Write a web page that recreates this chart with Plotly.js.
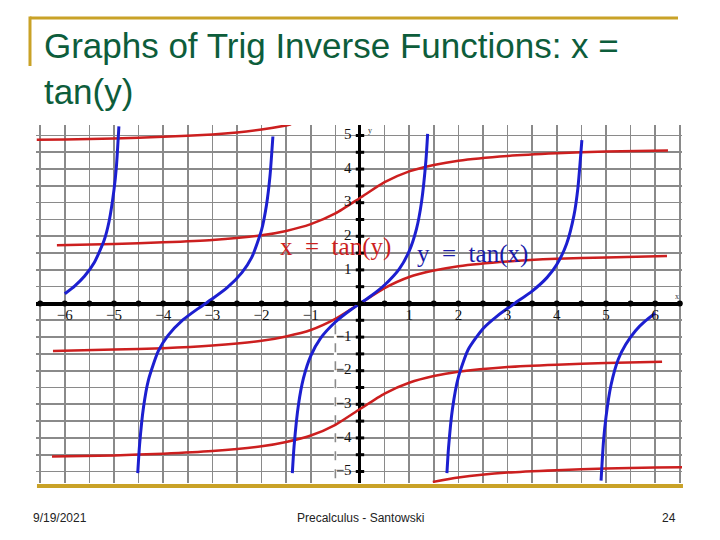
<!DOCTYPE html>
<html>
<head>
<meta charset="utf-8">
<script src="https://cdn.plot.ly/plotly-3.0.1.min.js"></script>
<style>html,body{margin:0;padding:0;background:#fff;}#chart{width:720px;height:540px;}</style>
</head>
<body>
<div id="chart"></div>
<script>
// ---- Data ----
// Blue: y = tan(x), one array pair per branch
const blue1X = [-6.0, -5.8, -5.6, -5.4, -5.2, -5.1, -5.0, -4.95, -4.9];
const blue1Y = [0.29, 0.52, 0.81, 1.22, 1.88, 2.44, 3.38, 4.09, 5.27];
const blue2X = [-4.517, -4.48, -4.4, -4.3, -4.1, -3.9, -3.6, -3.3, -3.14, -3.0, -2.7, -2.4, -2.2, -2.0, -1.9, -1.83, -1.77];
const blue2Y = [-5.05, -4.21, -3.09, -2.28, -1.42, -0.95, -0.49, -0.16, 0.0, 0.14, 0.47, 0.92, 1.37, 2.19, 2.93, 3.78, 4.97];
const blue3X = [-1.375, -1.34, -1.25, -1.15, -1.0, -0.8, -0.5, -0.2, 0.0, 0.2, 0.5, 0.8, 1.0, 1.15, 1.25, 1.34, 1.375];
const blue3Y = [-5.05, -4.25, -3.01, -2.23, -1.56, -1.03, -0.55, -0.20, 0.0, 0.20, 0.55, 1.03, 1.56, 2.23, 3.01, 4.25, 5.05];
const blue4X = [1.767, 1.80, 1.88, 2.0, 2.2, 2.5, 2.8, 3.14, 3.5, 3.8, 4.0, 4.2, 4.35, 4.43, 4.51];
const blue4Y = [-5.05, -4.29, -3.13, -2.19, -1.37, -0.75, -0.36, 0.0, 0.37, 0.77, 1.16, 1.78, 2.63, 3.45, 4.86];
const blue5X = [4.90, 4.95, 5.0, 5.1, 5.25, 5.4, 5.6, 5.8, 6.0];
const blue5Y = [-5.27, -4.09, -3.38, -2.44, -1.66, -1.22, -0.81, -0.52, -0.29];

// Red: x = tan(y), one array pair per branch
const red1X = [-6.57, -6.0, -5.0, -4.0, -3.0, -2.5, -2.0, -1.5, -1.4];
const red1Y = [4.87, 4.88, 4.91, 4.96, 5.03, 5.09, 5.18, 5.30, 5.33];
const red2X = [-6.16, -5.0, -4.0, -3.0, -2.0, -1.5, -1.0, -0.5, 0.0, 0.5, 1.0, 1.5, 2.0, 3.0, 4.0, 5.0, 6.26];
const red2Y = [1.73, 1.77, 1.82, 1.89, 2.03, 2.16, 2.36, 2.68, 3.14, 3.61, 3.93, 4.12, 4.25, 4.39, 4.47, 4.52, 4.55];
const red3X = [-6.24, -5.0, -4.0, -3.0, -2.0, -1.5, -1.0, -0.5, 0.0, 0.5, 1.0, 1.5, 2.0, 3.0, 4.0, 5.0, 6.24];
const red3Y = [-1.41, -1.37, -1.33, -1.25, -1.11, -0.98, -0.79, -0.46, 0.0, 0.46, 0.79, 0.98, 1.11, 1.25, 1.33, 1.37, 1.41];
const red4X = [-6.26, -5.0, -4.0, -3.0, -2.0, -1.5, -1.0, -0.5, 0.0, 0.5, 1.0, 1.5, 2.0, 3.0, 4.0, 5.0, 6.14];
const red4Y = [-4.55, -4.52, -4.47, -4.39, -4.25, -4.12, -3.93, -3.61, -3.14, -2.68, -2.36, -2.16, -2.03, -1.89, -1.82, -1.77, -1.73];
const red5X = [1.48, 2.0, 3.0, 4.0, 5.0, 6.0, 6.55];
const red5Y = [-5.31, -5.18, -5.03, -4.96, -4.91, -4.88, -4.87];

// Axis tick labels (drawn next to the axes through the origin)
const xTickVals = [-6, -5, -4, -3, -2, -1, 1, 2, 3, 4, 5, 6];
const xTickText = ['−6', '−5', '−4', '−3', '−2', '−1', '1', '2', '3', '4', '5', '6'];
const yTickVals = [5, 4, 3, 2, 1, -1, -2, -3, -4, -5];
const yTickText = ['5', '4', '3', '2', '1', '−1', '−2', '−3', '−4', '−5'];
// Tick dots along the axes
const xDotVals = [-6.5, -6, -5.5, -5, -4.5, -4, -3.5, -3, -2.5, -2, -1.5, -1, -0.5, 0, 0.5, 1, 1.5, 2, 2.5, 3, 3.5, 4, 4.5, 5, 5.5, 6, 6.5];
const yDotVals = [5.5, 5, 4.5, 4, 3.5, 3, 2.5, 2, 1.5, 1, 0.5, 0, -0.5, -1, -1.5, -2, -2.5, -3, -3.5, -4, -4.5, -5];

const BLUE = '#1c1fd0';
const RED = '#cc1f1f';
const GOLD = '#c9a227';

const traces = [];
function line(x, y, color, w) {
  traces.push({x: x, y: y, type: 'scatter', mode: 'lines', hoverinfo: 'skip', showlegend: false,
    line: {color: color, width: w, shape: 'spline', smoothing: 0.6}});
}
line(red1X, red1Y, RED, 2.5);
line(red2X, red2Y, RED, 2.5);
line(red3X, red3Y, RED, 2.5);
line(red4X, red4Y, RED, 2.5);
line(red5X, red5Y, RED, 2.5);
line(blue1X, blue1Y, BLUE, 3);
line(blue2X, blue2Y, BLUE, 3);
line(blue3X, blue3Y, BLUE, 3);
line(blue4X, blue4Y, BLUE, 3);
line(blue5X, blue5Y, BLUE, 3);

// axis dots
traces.push({x: xDotVals, y: xDotVals.map(() => 0), type: 'scatter', mode: 'markers', showlegend: false, hoverinfo: 'skip',
  marker: {color: '#000', size: 6}, cliponaxis: false});
traces.push({x: yDotVals.map(() => 0), y: yDotVals, type: 'scatter', mode: 'markers', showlegend: false, hoverinfo: 'skip',
  marker: {color: '#000', size: 6, symbol: 'line-ew', line: {width: 3, color: '#000'}}, cliponaxis: false});

// tick labels
traces.push({x: xTickVals, y: xTickVals.map(() => -0.38), text: xTickText, type: 'scatter', mode: 'text', showlegend: false,
  hoverinfo: 'skip', textposition: 'middle center', cliponaxis: false,
  textfont: {family: 'Liberation Serif, Times New Roman, serif', size: 15, color: '#111'}});
traces.push({x: yTickVals.map(() => -0.17), y: yTickVals, text: yTickText, type: 'scatter', mode: 'text', showlegend: false,
  hoverinfo: 'skip', textposition: 'middle left', cliponaxis: false,
  textfont: {family: 'Liberation Serif, Times New Roman, serif', size: 15, color: '#111'}});

const layout = {
  width: 720, height: 540,
  margin: {l: 36, r: 38, t: 125, b: 57},
  paper_bgcolor: '#fff', plot_bgcolor: '#fff',
  showlegend: false,
  title: {
    text: 'Graphs of Trig Inverse Functions: x =<br>tan(y)',
    x: 0.061, xref: 'container', xanchor: 'left',
    y: 0.892, yref: 'container', yanchor: 'top',
    font: {family: 'Liberation Sans, Arial, sans-serif', size: 35, color: '#0d5d3b'}
  },
  xaxis: {
    range: [-6.585, 6.545], dtick: 0.5, tick0: 0, showticklabels: false, ticks: '',
    showgrid: true, gridcolor: '#8a8a8a', gridwidth: 1.6,
    zeroline: true, zerolinecolor: '#000', zerolinewidth: 3,
    showline: false, fixedrange: true
  },
  yaxis: {
    range: [-5.342, 5.312], dtick: 0.5, tick0: 0, showticklabels: false, ticks: '',
    showgrid: true, gridcolor: '#8a8a8a', gridwidth: 1.6,
    zeroline: true, zerolinecolor: '#000', zerolinewidth: 4,
    showline: false, fixedrange: true
  },
  shapes: [
    // dashed segment of the x = -0.5 grid line
    {type: 'line', xref: 'x', yref: 'y', x0: -0.5, x1: -0.5, y0: -0.65, y1: -5.342, layer: 'between',
      line: {color: '#fff', width: 3}},
    {type: 'line', xref: 'x', yref: 'y', x0: -0.5, x1: -0.5, y0: -0.65, y1: -5.342, layer: 'between',
      line: {color: '#8a8a8a', width: 1.6, dash: 'dash'}},
    // slide decoration (gold rules)
    {type: 'line', xref: 'paper', yref: 'paper', x0: -0.0093, x1: 0.9938, y0: 1.2989, y1: 1.2989, layer: 'above',
      line: {color: GOLD, width: 3}},
    {type: 'line', xref: 'paper', yref: 'paper', x0: -0.0093, x1: -0.0093, y0: 1.3031, y1: 1.1648, layer: 'above',
      line: {color: GOLD, width: 3}},
    {type: 'line', xref: 'paper', yref: 'paper', x0: 0.0015, x1: 1.0015, y0: -0.0084, y1: -0.0084, layer: 'above',
      line: {color: GOLD, width: 4}}
  ],
  annotations: [
    {x: -0.5, y: 1.68, xref: 'x', yref: 'y', text: 'x &nbsp;= &nbsp;tan(y)', showarrow: false,
      font: {family: 'Liberation Serif, Times New Roman, serif', size: 25, color: RED}},
    {x: 2.28, y: 1.48, xref: 'x', yref: 'y', text: 'y &nbsp;= &nbsp;tan(x)', showarrow: false,
      font: {family: 'Liberation Serif, Times New Roman, serif', size: 25, color: '#1a1aa8'}},
    {x: 0.2, y: 5.15, xref: 'x', yref: 'y', text: 'y', showarrow: false,
      font: {family: 'Liberation Serif, serif', size: 8, color: '#333'}},
    {x: 6.45, y: 0.2, xref: 'x', yref: 'y', text: 'x', showarrow: false,
      font: {family: 'Liberation Serif, serif', size: 8, color: '#333'}},
    {x: -0.0077, y: -0.0978, xref: 'paper', yref: 'paper', xanchor: 'left', yanchor: 'middle', text: '9/19/2021', showarrow: false,
      font: {family: 'Liberation Sans, Arial, sans-serif', size: 12, color: '#222'}},
    {x: 0.503, y: -0.0978, xref: 'paper', yref: 'paper', xanchor: 'center', yanchor: 'middle', text: 'Precalculus - Santowski', showarrow: false,
      font: {family: 'Liberation Sans, Arial, sans-serif', size: 12, color: '#222'}},
    {x: 0.9938, y: -0.0978, xref: 'paper', yref: 'paper', xanchor: 'right', yanchor: 'middle', text: '24', showarrow: false,
      font: {family: 'Liberation Sans, Arial, sans-serif', size: 12, color: '#222'}}
  ]
};

Plotly.newPlot('chart', traces, layout, {staticPlot: true, displayModeBar: false});
</script>
</body>
</html>
